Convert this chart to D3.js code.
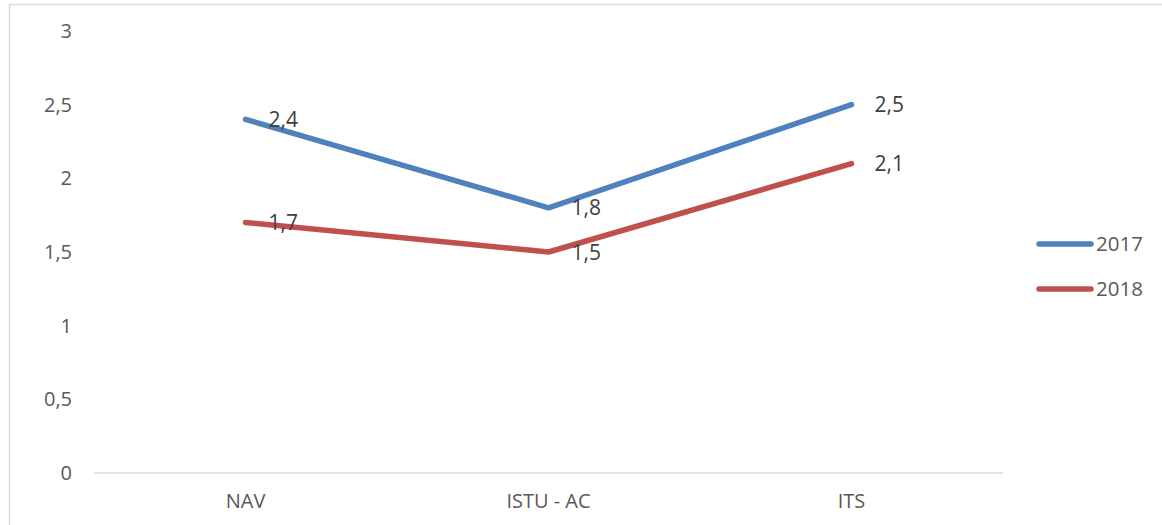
<!DOCTYPE html>
<html>
<head>
<meta charset="utf-8">
<script src="https://cdn.jsdelivr.net/npm/d3@7"></script>
<style>
  html, body { margin: 0; padding: 0; background: #fff; }
  svg { display: block; font-family: "Open Sans", "Noto Sans", sans-serif; }
</style>
</head>
<body>
<svg id="chart" width="1162" height="525"></svg>
<script>
// Category axis labels
const categories = ["NAV", "ISTU - AC", "ITS"];
// Series names (legend)
const seriesNames = ["2017", "2018"];
// Series values, one per category
const values2017 = [2.4, 1.8, 2.5];
const values2018 = [1.7, 1.5, 2.1];
// Y axis ticks
const yTicks = [0, 0.5, 1, 1.5, 2, 2.5, 3];

const colors = ["#4F81BD", "#C0504D"];
const series = [values2017, values2018];

const svg = d3.select("#chart");
const fmt = v => String(v).replace(".", ",");

// Outer chart frame
svg.append("rect")
  .attr("x", 9.5).attr("y", 4.5)
  .attr("width", 1170).attr("height", 540)
  .attr("fill", "none").attr("stroke", "#d9d9d9").attr("stroke-width", 1.5);

const plot = { left: 94, right: 1003, top: 31, bottom: 473 };

const x = d3.scaleBand().domain(categories).range([plot.left, plot.right]);
const y = d3.scaleLinear().domain([0, 3]).range([plot.bottom, plot.top]);

// Y axis labels (no axis line)
const yAxis = svg.append("g")
  .attr("transform", `translate(${plot.left - 22},0)`)
  .call(d3.axisLeft(y).tickValues(yTicks).tickSize(0).tickPadding(0).tickFormat(fmt));
yAxis.select(".domain").remove();
yAxis.selectAll("text")
  .attr("fill", "#595959").attr("font-size", 20)
  .style("font-family", "'Open Sans', sans-serif");

// Baseline
svg.append("line")
  .attr("x1", plot.left).attr("x2", plot.right)
  .attr("y1", y(0)).attr("y2", y(0))
  .attr("stroke", "#d9d9d9").attr("stroke-width", 1.5);

// X axis labels
const xAxis = svg.append("g")
  .attr("transform", `translate(0,${y(0)})`)
  .call(d3.axisBottom(x).tickSize(0).tickPadding(21));
xAxis.select(".domain").remove();
xAxis.selectAll("text")
  .attr("fill", "#595959").attr("font-size", 20)
  .style("font-family", "'Open Sans', sans-serif");

const cx = c => x(c) + x.bandwidth() / 2;
const line = d3.line().x((d, i) => cx(categories[i])).y(d => y(d));

series.forEach((vals, s) => {
  svg.append("path")
    .datum(vals)
    .attr("d", line)
    .attr("fill", "none")
    .attr("stroke", colors[s])
    .attr("stroke-width", 5.5)
    .attr("stroke-linecap", "round")
    .attr("stroke-linejoin", "round");
});

// Data labels to the right of each point
series.forEach((vals, s) => {
  svg.append("g").selectAll("text")
    .data(vals)
    .join("text")
    .attr("x", (d, i) => cx(categories[i]) + 23)
    .attr("y", d => y(d))
    .attr("dy", "0.36em")
    .attr("fill", "#404040")
    .attr("font-size", 21)
    .text(fmt);
});

// Legend
const legend = svg.append("g");
seriesNames.forEach((name, s) => {
  const ly = 244 + s * 45;
  legend.append("line")
    .attr("x1", 1039).attr("x2", 1091)
    .attr("y1", ly).attr("y2", ly)
    .attr("stroke", colors[s]).attr("stroke-width", 5.5)
    .attr("stroke-linecap", "round");
  legend.append("text")
    .attr("x", 1096).attr("y", ly).attr("dy", "0.36em")
    .attr("fill", "#595959").attr("font-size", 20.5)
    .text(name);
});
</script>
</body>
</html>
